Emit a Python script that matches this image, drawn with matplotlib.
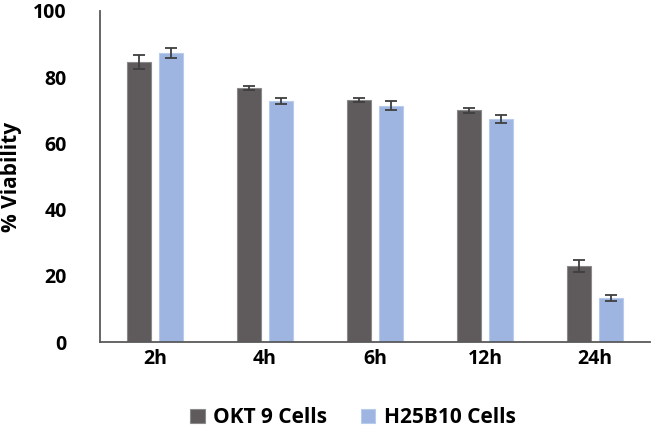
import matplotlib.pyplot as plt
import numpy as np

# Viability data
times = ["2h", "4h", "6h", "12h", "24h"]
okt9 = [84.7, 76.7, 73.0, 70.0, 23.0]
okt9_err = [2.1, 0.7, 0.6, 0.7, 1.8]
h25b10 = [87.3, 72.8, 71.4, 67.3, 13.4]
h25b10_err = [1.4, 1.0, 1.3, 1.2, 0.9]

plt.rcParams["font.family"] = ["Open Sans", "DejaVu Sans"]
plt.rcParams["font.weight"] = "bold"

fig = plt.figure(figsize=(6.51, 4.37), dpi=100)
ax = fig.add_axes([100 / 651, 95 / 437, 550 / 651, 331 / 437])

x = np.arange(len(times))
w = 0.22
off = 0.143
err_kw = dict(ecolor="#3f3f3f", elinewidth=1.3, capsize=4, capthick=1.3)
ax.bar(x - off, okt9, w, yerr=okt9_err, color="#5f5b5c", edgecolor="#8a8a8a",
       linewidth=0.8, error_kw=err_kw, label="OKT 9 Cells")
ax.bar(x + off, h25b10, w, yerr=h25b10_err, color="#9db5e0", edgecolor="#b8cbec",
       linewidth=0.8, error_kw=err_kw, label="H25B10 Cells")

ax.set_xlim(-0.5, 4.5)
ax.set_ylim(0, 100)
ax.set_yticks([0, 20, 40, 60, 80, 100])
ax.set_xticks(x)
ax.set_xticklabels(times)
ax.tick_params(axis="both", length=0, labelsize=14)
ax.tick_params(axis="y", pad=24)
ax.tick_params(axis="x", pad=5)
for lab in ax.get_xticklabels() + ax.get_yticklabels():
    lab.set_fontweight("bold")

ax.spines["top"].set_visible(False)
ax.spines["right"].set_visible(False)
ax.spines["left"].set_color("#595959")
ax.spines["bottom"].set_color("#595959")
ax.spines["left"].set_linewidth(1.3)
ax.spines["bottom"].set_linewidth(1.3)

ax.set_ylabel("% Viability", fontsize=15, fontweight="bold", labelpad=8)

ax.legend(loc="upper center", bbox_to_anchor=(0.46, -0.14), ncol=2, frameon=False,
          prop={"size": 15, "weight": "bold"}, handlelength=0.7, handleheight=0.7,
          columnspacing=1.6, handletextpad=0.4)

plt.savefig("out.png", dpi=100)
